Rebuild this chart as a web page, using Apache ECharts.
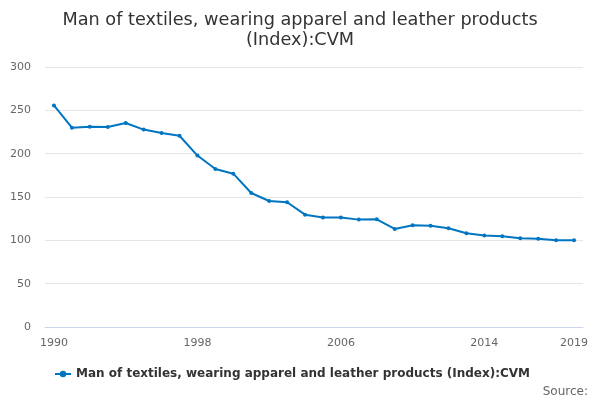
<!DOCTYPE html>
<html>
<head>
<meta charset="utf-8">
<script src="https://cdn.jsdelivr.net/npm/echarts@6/dist/echarts.min.js"></script>
<style>
  html, body { margin: 0; padding: 0; background: #fff; }
  #chart { width: 600px; height: 400px; }
</style>
</head>
<body>
<div id="chart"></div>
<script>
  // CVM index
  var years = ['1990','1991','1992','1993','1994','1995','1996','1997','1998','1999',
               '2000','2001','2002','2003','2004','2005','2006','2007','2008','2009',
               '2010','2011','2012','2013','2014','2015','2016','2017','2018','2019'];
  var values = [255.6, 230.0, 231.0, 230.7, 235.4, 227.8, 223.8, 220.7, 197.8, 182.3,
                176.9, 154.6, 145.4, 143.9, 129.6, 126.3, 126.3, 123.9, 124.2, 113.1,
                117.3, 116.9, 113.9, 108.2, 105.5, 104.6, 102.4, 101.9, 100.0, 100.2];
  var yTicks = [0, 50, 100, 150, 200, 250, 300];
  var seriesName = 'Man of textiles, wearing apparel and leather products (Index):CVM';

  var last = years.length - 1;
  var myChart = echarts.init(document.getElementById('chart'));
  var option = {
    animation: false,
    textStyle: { fontFamily: 'DejaVu Sans' },
    title: [{
      text: 'Man of textiles, wearing apparel and leather products\n(Index):CVM',
      left: 'center',
      top: 5,
      textStyle: { fontSize: 17.7, fontWeight: 'normal', color: '#333333', lineHeight: 20 }
    }, {
      text: 'Source:',
      right: 7,
      top: 381,
      textStyle: { fontSize: 12, fontWeight: 'normal', color: '#666666' }
    }],
    legend: {
      bottom: 15,
      left: 49,
      itemWidth: 16,
      itemHeight: 8,
      textStyle: { fontSize: 12, fontWeight: 'bold', color: '#333333' },
      data: [seriesName]
    },
    grid: { left: 45, right: 17, top: 67, bottom: 73 },
    xAxis: {
      type: 'category',
      data: years,
      boundaryGap: true,
      axisLine: { lineStyle: { color: '#ccd6eb' } },
      axisTick: {
        alignWithLabel: true,
        length: 10,
        lineStyle: { color: '#ccd6eb' },
        interval: function (i) { return i % 2 === 0 || i === last; }
      },
      axisLabel: {
        color: '#666666',
        fontSize: 11,
        margin: 11,
        interval: function (i) { return i % 8 === 0 || i === last; }
      }
    },
    yAxis: {
      type: 'value',
      min: yTicks[0],
      max: yTicks[yTicks.length - 1],
      interval: 50,
      axisLine: { show: false },
      axisTick: { show: false },
      splitLine: { lineStyle: { color: '#e6e6e6' } },
      axisLabel: { color: '#666666', fontSize: 11, margin: 14 }
    },
    series: [{
      name: seriesName,
      type: 'line',
      data: values,
      symbol: 'circle',
      symbolSize: 4,
      itemStyle: { color: '#0075c2' },
      lineStyle: { width: 2, color: '#0075c2' }
    }]
  };
  myChart.setOption(option);
</script>
</body>
</html>
